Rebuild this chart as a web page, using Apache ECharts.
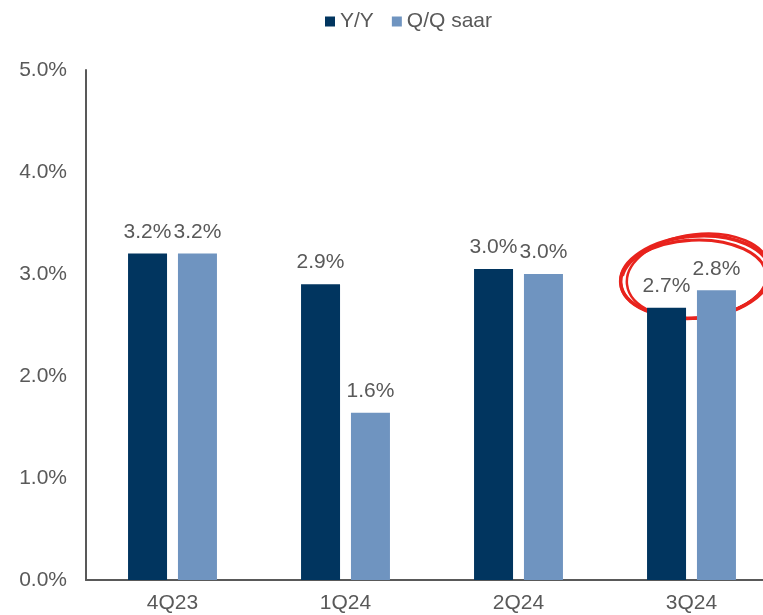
<!DOCTYPE html>
<html lang="en">
  <head>
    <meta charset="UTF-8" />
    <script src="https://cdn.jsdelivr.net/npm/echarts@6/dist/echarts.min.js"></script>
    <title>Chart</title>
    <style>
      html,
      body,
      #chart {
        width: 100%;
        height: 100%;
        margin: 0;
        padding: 0;
        overflow: hidden;
        background: #fff;
      }
    </style>
  </head>
  <body>
    <div id="chart"></div>
    <script>
      const categories = ["4Q23", "1Q24", "2Q24", "3Q24"];
      const yoy = [3.2, 2.9, 3.05, 2.67];
      const qoq = [3.2, 1.64, 3.0, 2.84];
      const yTicks = [0, 1, 2, 3, 4, 5];

      const textColor = "#595959";
      const font = "Liberation Sans, Arial, sans-serif";

      const labelStyle = {
        show: true,
        position: "top",
        distance: 11,
        color: textColor,
        fontSize: 21,
        fontFamily: font,
        formatter: (p) => p.value.toFixed(1) + "%",
      };

      const myChart = echarts.init(document.getElementById("chart"));
      const option = {
        animation: false,
        legend: {
          top: 6,
          left: 320,
          itemWidth: 10,
          itemHeight: 10,
          itemGap: 18,
          icon: "rect",
          textStyle: { color: textColor, fontSize: 21, fontFamily: font },
          data: ["Y/Y", "Q/Q saar"],
        },
        // plot area runs past the right edge, as in the source image
        grid: {
          left: 86,
          width: 692,
          top: 70,
          bottom: 35,
          outerBoundsMode: "none",
        },
        xAxis: {
          type: "category",
          data: categories,
          axisLine: { lineStyle: { color: textColor, width: 2 } },
          axisTick: { show: false },
          axisLabel: {
            color: textColor,
            fontSize: 21,
            fontFamily: font,
            margin: 13,
          },
        },
        yAxis: {
          type: "value",
          min: yTicks[0],
          max: yTicks[yTicks.length - 1],
          interval: 1,
          axisLine: { show: true, lineStyle: { color: textColor, width: 2 } },
          axisTick: { show: false },
          splitLine: { show: false },
          axisLabel: {
            color: textColor,
            fontSize: 21,
            fontFamily: font,
            margin: 19,
            formatter: (v) => v.toFixed(1) + "%",
          },
        },
        series: [
          {
            name: "Y/Y",
            type: "bar",
            data: yoy,
            barWidth: 39,
            barGap: "28%",
            itemStyle: { color: "#01355F" },
            label: labelStyle,
          },
          {
            name: "Q/Q saar",
            type: "bar",
            data: qoq,
            barWidth: 39,
            itemStyle: { color: "#6F94C0" },
            label: labelStyle,
          },
        ],
      };
      myChart.setOption(option);

      // hand-drawn red circle round the latest quarter
      const c = myChart.convertToPixel({ xAxisIndex: 0, yAxisIndex: 0 }, [3, 2.95]);
      const ring = (dx, dy, rx, ry, rot, w) => ({
        type: "ellipse",
        x: c[0] + dx,
        y: c[1] + dy,
        rotation: rot,
        shape: { cx: 0, cy: 0, rx: rx, ry: ry },
        style: { fill: null, stroke: "#E8231D", lineWidth: w },
        silent: true,
      });
      myChart.setOption({
        graphic: [
          ring(4, -2, 75, 41, 0.08, 3.5),
          ring(2, 0, 73, 39, 0.05, 3),
          ring(7, -3, 72, 42, 0.12, 2.5),
          // loose stroke tail at top left
          {
            type: "arc",
            x: c[0] + 10,
            y: c[1] + 4,
            shape: { cx: 0, cy: 0, r: 80, startAngle: Math.PI * 1.05, endAngle: Math.PI * 1.45 },
            scaleY: 0.55,
            style: { fill: null, stroke: "#E8231D", lineWidth: 3 },
            silent: true,
          },
        ],
      });
    </script>
  </body>
</html>
